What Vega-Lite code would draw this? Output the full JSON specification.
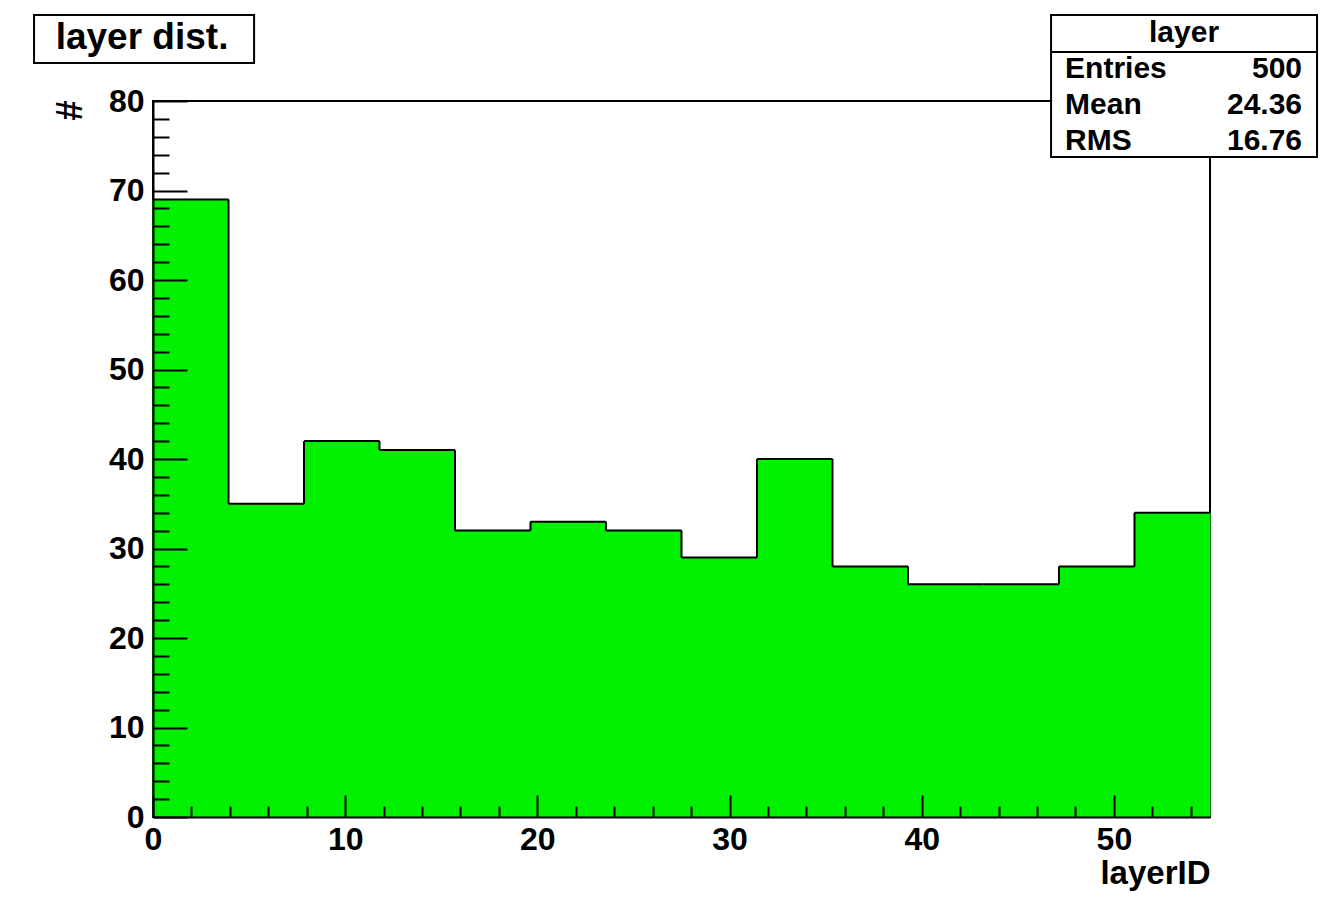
{
  "$schema": "https://vega.github.io/schema/vega-lite/v6.json",
  "width": 1057,
  "height": 716,
  "autosize": "none",
  "padding": {"left": 153, "top": 101, "right": 118, "bottom": 85},
  "background": "white",
  "config": {
    "font": "Liberation Sans",
    "view": {"stroke": "black", "strokeWidth": 2}
  },
  "datasets": {
    "bins": [
      {"start": 0, "end": 3.9286, "count": 69},
      {"start": 3.9286, "end": 7.8571, "count": 35},
      {"start": 7.8571, "end": 11.7857, "count": 42},
      {"start": 11.7857, "end": 15.7143, "count": 41},
      {"start": 15.7143, "end": 19.6429, "count": 32},
      {"start": 19.6429, "end": 23.5714, "count": 33},
      {"start": 23.5714, "end": 27.5, "count": 32},
      {"start": 27.5, "end": 31.4286, "count": 29},
      {"start": 31.4286, "end": 35.3571, "count": 40},
      {"start": 35.3571, "end": 39.2857, "count": 28},
      {"start": 39.2857, "end": 43.2143, "count": 26},
      {"start": 43.2143, "end": 47.1429, "count": 26},
      {"start": 47.1429, "end": 51.0714, "count": 28},
      {"start": 51.0714, "end": 55, "count": 34}
    ]
  },
  "resolve": {"axis": {"x": "independent", "y": "independent"}},
  "layer": [
    {
      "data": {"name": "bins"},
      "mark": {"type": "bar", "color": "#00f000", "stroke": "#00f000", "strokeWidth": 1},
      "encoding": {
        "x": {
          "field": "start",
          "type": "quantitative",
          "scale": {"domain": [0, 55], "nice": false, "zero": false},
          "axis": {
            "orient": "bottom",
            "values": [0, 10, 20, 30, 40, 50],
            "format": "d",
            "tickCount": 100,
            "tickSize": -22,
            "tickWidth": 2,
            "tickColor": "black",
            "domainColor": "black",
            "domainWidth": 2,
            "grid": false,
            "labelFontSize": 32,
            "labelFontWeight": "bold",
            "labelColor": "black",
            "labelPadding": 29,
            "labelFlush": false,
            "labelOverlap": false,
            "title": "layerID",
            "titleFontSize": 33,
            "titleFontWeight": "bold",
            "titleColor": "black",
            "titleX": 1057,
            "titleY": 56,
            "titleAlign": "right",
            "titleBaseline": "middle",
            "zindex": 1
          }
        },
        "x2": {"field": "end"},
        "y": {
          "field": "count",
          "type": "quantitative",
          "scale": {"domain": [0, 80], "nice": false},
          "axis": {
            "orient": "left",
            "values": [0, 10, 20, 30, 40, 50, 60, 70, 80],
            "format": "d",
            "tickCount": 100,
            "tickSize": -34,
            "tickWidth": 2,
            "tickColor": "black",
            "domainColor": "black",
            "domainWidth": 2,
            "grid": false,
            "labelFontSize": 32,
            "labelFontWeight": "bold",
            "labelColor": "black",
            "labelPadding": 43,
            "labelFlush": false,
            "labelOverlap": false,
            "title": "#",
            "titleFontSize": 36,
            "titleFontWeight": "bold",
            "titleColor": "black",
            "titleAngle": -90,
            "titleX": -83,
            "titleY": 9,
            "titleAlign": "center",
            "titleBaseline": "middle",
            "zindex": 1
          }
        },
        "y2": {"datum": 0}
      }
    },
    {
      "data": {"name": "bins"},
      "mark": {"type": "rule", "color": "black", "strokeWidth": 2},
      "encoding": {
        "x": {
          "field": "start",
          "type": "quantitative",
          "axis": {
            "orient": "bottom",
            "values": [2, 4, 6, 8, 12, 14, 16, 18, 22, 24, 26, 28, 32, 34, 36, 38, 42, 44, 46, 48, 52, 54],
            "tickCount": 100,
            "tickSize": -11,
            "tickWidth": 2,
            "tickColor": "black",
            "domain": false,
            "grid": false,
            "labels": false,
            "title": null,
            "zindex": 1
          }
        },
        "x2": {"field": "end"},
        "y": {
          "field": "count",
          "type": "quantitative",
          "axis": {
            "orient": "left",
            "values": [2, 4, 6, 8, 12, 14, 16, 18, 22, 24, 26, 28, 32, 34, 36, 38, 42, 44, 46, 48, 52, 54, 56, 58, 62, 64, 66, 68, 72, 74, 76, 78],
            "tickCount": 100,
            "tickSize": -16,
            "tickWidth": 2,
            "tickColor": "black",
            "domain": false,
            "grid": false,
            "labels": false,
            "title": null,
            "zindex": 1
          }
        }
      }
    },
    {
      "data": {"name": "bins"},
      "transform": [
        {"window": [{"op": "lag", "field": "count", "as": "prev"}]},
        {"filter": "datum.prev != null"}
      ],
      "mark": {"type": "rule", "color": "black", "strokeWidth": 2},
      "encoding": {
        "x": {"field": "start", "type": "quantitative", "axis": null},
        "y": {"field": "prev", "type": "quantitative", "axis": null},
        "y2": {"field": "count"}
      }
    },
    {
      "data": {"values": [{}]},
      "layer": [
        {
          "mark": {"type": "rect", "fill": "white", "stroke": "black", "strokeWidth": 2},
          "encoding": {
            "x": {"datum": -6.19, "type": "quantitative", "axis": null},
            "x2": {"datum": 5.26},
            "y": {"datum": 89.61, "type": "quantitative", "axis": null},
            "y2": {"datum": 84.25}
          }
        },
        {
          "mark": {"type": "text", "text": "layer dist.", "fontSize": 37, "fontWeight": "bold", "color": "black", "align": "center", "baseline": "middle"},
          "encoding": {
            "x": {"datum": -0.57, "type": "quantitative", "axis": null},
            "y": {"datum": 87.0, "type": "quantitative", "axis": null}
          }
        },
        {
          "mark": {"type": "rect", "fill": "white", "stroke": "black", "strokeWidth": 2},
          "encoding": {
            "x": {"datum": 46.73, "type": "quantitative", "axis": null},
            "x2": {"datum": 60.57},
            "y": {"datum": 89.61, "type": "quantitative", "axis": null},
            "y2": {"datum": 73.74}
          }
        },
        {
          "mark": {"type": "rule", "color": "black", "strokeWidth": 2},
          "encoding": {
            "x": {"datum": 46.73, "type": "quantitative", "axis": null},
            "x2": {"datum": 60.57},
            "y": {"datum": 85.47, "type": "quantitative", "axis": null}
          }
        },
        {
          "mark": {"type": "text", "text": "layer", "fontSize": 30, "fontWeight": "bold", "color": "black", "align": "center", "baseline": "middle"},
          "encoding": {
            "x": {"datum": 53.65, "type": "quantitative", "axis": null},
            "y": {"datum": 87.6, "type": "quantitative", "axis": null}
          }
        },
        {
          "mark": {"type": "text", "text": ["Entries", "Mean", "RMS"], "lineHeight": 36, "fontSize": 30, "fontWeight": "bold", "color": "black", "align": "left", "baseline": "middle"},
          "encoding": {
            "x": {"datum": 47.46, "type": "quantitative", "axis": null},
            "y": {"datum": 83.58, "type": "quantitative", "axis": null}
          }
        },
        {
          "mark": {"type": "text", "text": ["500", "24.36", "16.76"], "lineHeight": 36, "fontSize": 30, "fontWeight": "bold", "color": "black", "align": "right", "baseline": "middle"},
          "encoding": {
            "x": {"datum": 59.79, "type": "quantitative", "axis": null},
            "y": {"datum": 83.58, "type": "quantitative", "axis": null}
          }
        }
      ]
    }
  ]
}
